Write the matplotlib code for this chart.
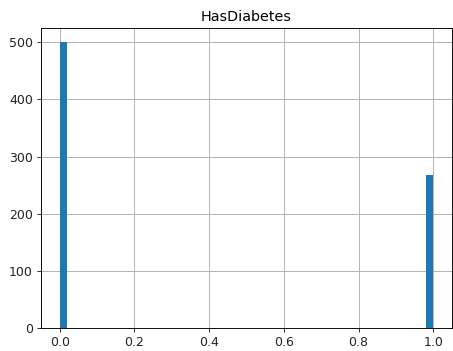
import numpy as np
import matplotlib
matplotlib.use("Agg")
from matplotlib import pyplot as plt

# HasDiabetes column: 500 zeros, 268 ones
values = [0, 1]
counts = [500, 268]
n_bins = 50

data = np.repeat(values, counts)

DPI = 83
fig = plt.figure(figsize=(453 / DPI, 351 / DPI), dpi=DPI)
ax = fig.add_axes([41 / 453, 23 / 351, 411 / 453, 300 / 351])
ax.hist(data, bins=n_bins, color="#1f77b4")
ax.grid(True, color="#b0b0b0", linewidth=0.8)
ax.set_axisbelow(True)
ax.set_title("HasDiabetes", fontsize=12.5)
ax.tick_params(labelsize=10.8, colors="#222222")
ax.set_ylim(0, 525)

fig.savefig("out.png", dpi=DPI)
